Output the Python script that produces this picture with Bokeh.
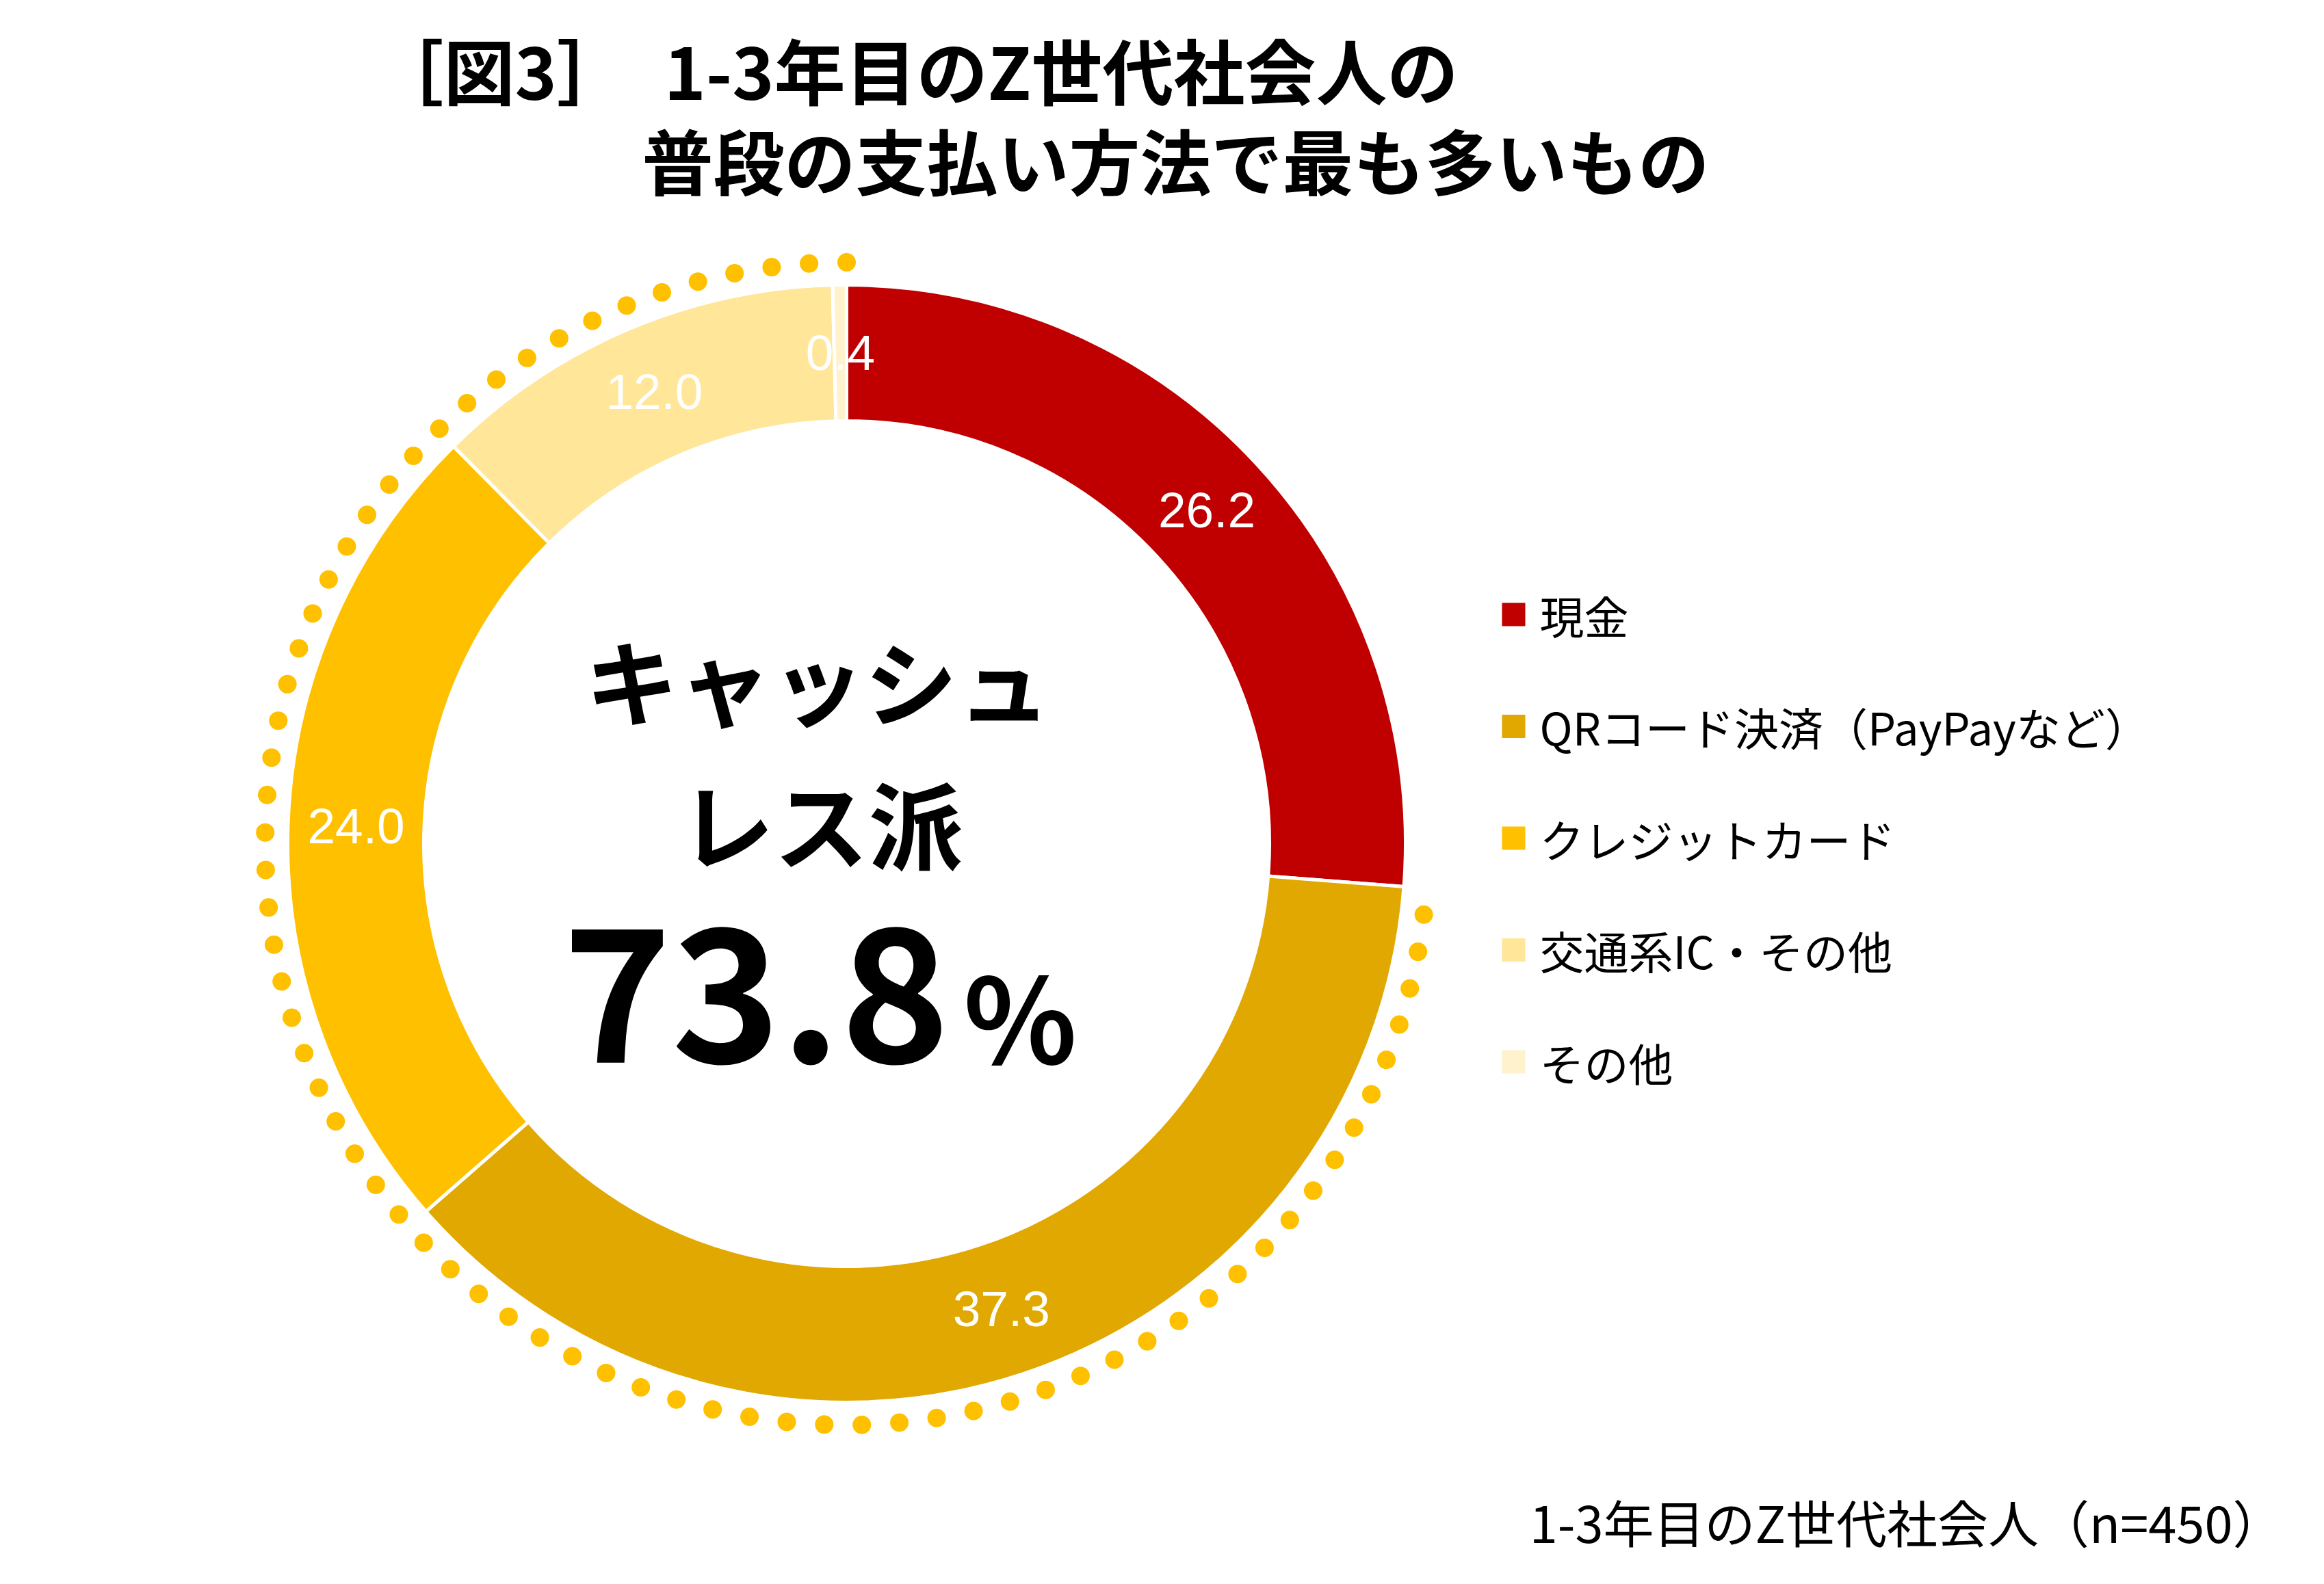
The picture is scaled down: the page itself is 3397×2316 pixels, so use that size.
import numpy as np
from bokeh.plotting import figure
from bokeh.models import Range1d, ColumnDataSource
from bokeh.core.properties import value
from bokeh.embed import file_html
from bokeh.resources import INLINE

# ---- data ----
categories = ["現金", "QRコード決済（PayPayなど）", "クレジットカード", "交通系IC・その他", "その他"]
values = [26.2, 37.3, 24.0, 12.0, 0.4]
colors = ["#C00000", "#E0A800", "#FFC000", "#FFE699", "#FFF2CC"]
cashless_pct = 73.8
title_tag = "［図3］"
title_lines = ["1-3年目のZ世代社会人の", "普段の支払い方法で最も多いもの"]
center_lines = ["キャッシュ", "レス派"]
footnote = "1-3年目のZ世代社会人（n=450）"

W, H = 3381, 2300
PAGE_H = 2316


def Y(page_y):
    return PAGE_H - page_y


p = figure(width=W, height=H, x_range=Range1d(8, 8 + W), y_range=Range1d(8, 8 + H),
           output_backend="svg", toolbar_location=None, min_border=0,
           x_axis_location=None, y_axis_location=None)
p.grid.visible = False
p.outline_line_color = None
p.background_fill_color = "white"

cx, cy = 1245, Y(1241)
r_in, r_out = 618, 817
JP = value("Noto Sans CJK JP")

vals = np.array(values)
total = vals.sum()
cum = np.concatenate([[0], np.cumsum(vals)]) / total
start = np.pi / 2 - 2 * np.pi * cum[1:]
end = np.pi / 2 - 2 * np.pi * cum[:-1]
mid = (start + end) / 2
r_mid = (r_in + r_out) / 2

src = ColumnDataSource(dict(start=start, end=end, color=colors,
                            lx=cx + r_mid * np.cos(mid), ly=cy + r_mid * np.sin(mid),
                            lab=[f"{v:.1f}" for v in values]))
p.annular_wedge(x=cx, y=cy, inner_radius=r_in, outer_radius=r_out,
                start_angle="start", end_angle="end", fill_color="color",
                line_color="white", line_width=5, source=src)
p.text(x="lx", y="ly", text="lab", source=src, text_color="white",
       text_font=value("Liberation Sans"), text_font_size="73px",
       text_align="center", text_baseline="middle")

# dotted arc around the cashless segments
dot_r = 850
a_start = np.pi / 2 - 2 * np.pi * cum[1] - np.deg2rad(2.6)
a_end = np.pi / 2 - 2 * np.pi
n_dots = int(round(abs(a_start - a_end) * dot_r / 55)) + 1
ang = np.linspace(a_start, a_end, n_dots)
p.scatter(x=cx + dot_r * np.cos(ang), y=cy + dot_r * np.sin(ang), size=27,
          marker="circle", fill_color="#FFC000", line_color=None)

# center text
p.text(x=[1203], y=[Y(1000)], text=[center_lines[0]], text_font=JP, text_font_style="bold",
       text_font_size="136px", text_align="center", text_baseline="middle", text_color="black")
p.text(x=[1208], y=[Y(1208)], text=[center_lines[1]], text_font=JP, text_font_style="bold",
       text_font_size="138px", text_align="center", text_baseline="middle", text_color="black")
p.text(x=[830], y=[Y(1460)], text=[f"{cashless_pct:.1f}"], text_font=JP, text_font_style="bold",
       text_font_size="270px", text_align="left", text_baseline="middle", text_color="black")
p.text(x=[1416], y=[Y(1488)], text=["%"], text_font=JP, text_font_style="bold",
       text_font_size="172px", text_align="left", text_baseline="middle", text_color="black")

# title
p.text(x=[552], y=[Y(108)], text=[title_tag], text_font=JP, text_font_style="bold",
       text_font_size="104px", text_align="left", text_baseline="middle", text_color="black")
p.text(x=[978, 946], y=[Y(108), Y(240)], text=title_lines, text_font=JP, text_font_style="bold",
       text_font_size="104px", text_align="left", text_baseline="middle", text_color="black")

# legend
leg_y = [Y(906 + 163.5 * i) for i in range(len(categories))]
p.rect(x=[2220] * len(categories), y=leg_y, width=34, height=34, fill_color=colors, line_color=None)
p.text(x=[2258] * len(categories), y=leg_y, text=categories, text_font=JP,
       text_font_size="65px", text_align="left", text_baseline="middle", text_color="black")

# footnote
p.text(x=[3345], y=[Y(2231)], text=[footnote], text_font=JP, text_font_size="74px",
       text_align="right", text_baseline="middle", text_color="black")

open("out.html", "w").write(file_html(p, INLINE))
